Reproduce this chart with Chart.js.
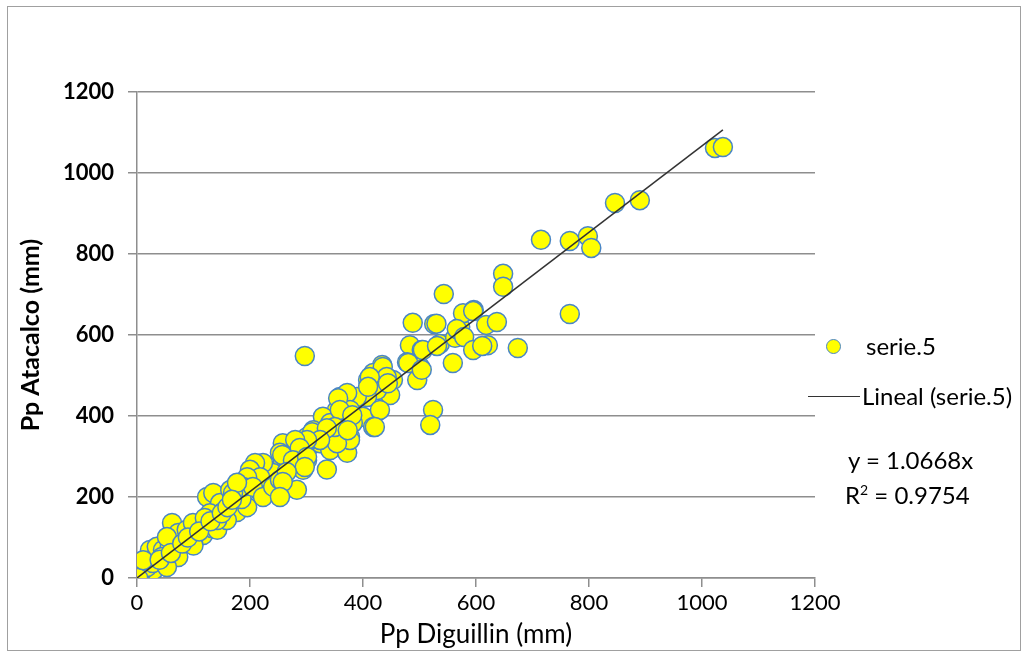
<!DOCTYPE html>
<html>
<head>
<meta charset="utf-8">
<script src="https://cdn.jsdelivr.net/npm/chart.js@4"></script>
<style>
  body { margin: 0; background: #fff; }
  #wrap { position: relative; width: 1027px; height: 658px; }
  #frame { position: absolute; left: 7px; top: 6px; width: 1014px; height: 645px; border: 1px solid #a0a0a0; box-sizing: border-box; }
  .lg { position: absolute; font-family: Lato, 'Liberation Sans', sans-serif; font-size: 24px; color: #000; white-space: nowrap; line-height: 28px; }
  .dot { position: absolute; width: 15px; height: 15px; border-radius: 50%; background: #ffff00; border: 1.5px solid #4a86c5; box-sizing: border-box; }
  .ln { position: absolute; height: 0; border-top: 1.5px solid #333; }
</style>
</head>
<body>
<div id="wrap">
  <div id="frame"></div>
  <canvas id="chart" width="1027" height="658"></canvas>
  <div class="dot" style="left:826px; top:339px;"></div>
  <div class="lg" style="left:866px; top:332px;">serie.5</div>
  <div class="ln" style="left:808px; top:396px; width:52px;"></div>
  <div class="lg" style="left:862px; top:382px;">Lineal (serie.5)</div>
  <div class="lg" style="left:848px; top:446px;">y = 1.0668x</div>
  <div class="lg" style="left:845px; top:476px;">R<sup style="font-size:14px; vertical-align: 9px;">2</sup> = 0.9754</div>
</div>
<script>
// Pp Diguillin (mm) vs Pp Atacalco (mm)
var diguillin = [
  2, 5, 8, 10, 3, 15, 12, 20, 25, 30, 0, 6,
  2, 5, 18, 28, 2, 23, 35, 46, 58, 73, 62, 73, 53, 88, 99, 106, 117, 133, 142, 99, 85, 124, 135, 147, 152, 129, 120, 170, 165, 182, 195, 200, 177, 195, 159, 142, 100, 44, 11, 53,
  40, 60, 80, 90, 110, 130, 150, 160, 185, 210, 230, 245, 270, 290, 310,
  359, 373, 354, 382, 329, 342, 365, 377, 359, 336, 312, 301, 324, 342, 372, 336, 306, 280, 258, 253, 274, 301, 294, 265, 283, 258, 241, 223, 209, 200, 218, 195, 188, 205, 223, 241, 253, 170, 177, 168,
  483, 504, 536, 563, 559, 478, 501, 496, 434, 418, 409, 439, 453, 448, 425, 407, 389, 372, 377, 400, 430, 418, 382, 365, 347, 363, 377, 354,
  297, 488, 526, 596, 572, 506, 531, 480, 504, 435, 442, 412, 409, 444, 356, 359, 381, 421, 350, 373, 310, 336, 324, 301, 280, 288, 257, 276, 301, 297, 265, 258, 253,
  543, 577, 595, 648, 648, 618, 637, 566, 579, 595, 621, 611, 674, 766, 530,
  1023, 1037, 846, 890, 766, 798, 804, 715,
  524, 519
];
var atacalco = [
  2, 8, 3, 15, 25, 5, 22, 12, 30, 20, 5, 12,
  20, 12, 27, 37, 0, 69, 77, 69, 77, 52, 136, 111, 101, 119, 136, 101, 106, 123, 119, 94, 86, 200, 210, 185, 163, 160, 148, 193, 217, 235, 217, 242, 163, 175, 143, 143, 80, 52, 44, 27,
  45, 62, 85, 100, 115, 140, 160, 175, 195, 225, 250, 265, 285, 310, 330,
  447, 440, 415, 415, 398, 383, 383, 348, 333, 358, 365, 348, 333, 316, 309, 268, 341, 333, 333, 309, 299, 291, 267, 267, 218, 291, 259, 284, 284, 267, 249, 249, 225, 225, 200, 225, 242, 210, 235, 193,
  575, 563, 578, 593, 531, 533, 521, 489, 526, 506, 489, 496, 489, 452, 464, 447, 447, 457, 415, 398, 415, 373, 383, 390, 365, 358, 341, 333,
  548, 630, 627, 662, 620, 563, 573, 531, 514, 521, 496, 496, 472, 481, 444, 415, 402, 373, 373, 365, 360, 370, 341, 341, 341, 321, 304, 291, 299, 274, 262, 237, 200,
  701, 654, 659, 751, 719, 625, 632, 615, 595, 563, 575, 573, 568, 652, 628,
  1062, 1064, 926, 933, 832, 844, 815, 835,
  415, 378
];
var yTicks = [0, 200, 400, 600, 800, 1000, 1200];
var slope = 1.0668;

var points = diguillin.map(function (x, i) { return { x: x, y: atacalco[i] }; });
var xMax = Math.max.apply(null, diguillin);
var trend = [{ x: 0, y: 0 }, { x: xMax, y: slope * xMax }];

function plain(v) { return String(v); }

new Chart(document.getElementById('chart'), {
  type: 'scatter',
  data: {
    datasets: [{
      label: 'Lineal (serie.5)',
      type: 'line',
      data: trend,
      borderColor: '#333333',
      borderWidth: 1.5,
      pointRadius: 0,
      fill: false,
      order: 0
    }, {
      label: 'serie.5',
      data: points,
      backgroundColor: '#ffff00',
      borderColor: '#4a86c5',
      borderWidth: 1.5,
      pointRadius: 9.5,
      order: 1
    }]
  },
  options: {
    responsive: false,
    animation: false,
    layout: { padding: { left: 14, right: 212, top: 92, bottom: 8 } },
    plugins: { legend: { display: false }, tooltip: { enabled: false } },
    scales: {
      x: {
        type: 'linear',
        min: 0,
        max: 1200,
        afterFit: function (scale) { scale.height = 72; },
        ticks: { stepSize: 200, color: '#000', font: { family: 'Lato', size: 22 }, padding: 3, maxRotation: 0, callback: plain },
        grid: { drawOnChartArea: false, drawTicks: true, tickLength: 9, color: '#8e8e8e', lineWidth: 1.5 },
        border: { color: '#8e8e8e', width: 1.5 },
        title: { display: true, text: 'Pp Diguillin (mm)', color: '#000', font: { family: 'Lato', size: 26 }, padding: { top: 0, bottom: 0 } }
      },
      y: {
        type: 'linear',
        min: 0,
        max: 1200,
        afterFit: function (scale) { scale.width = 123; },
        afterBuildTicks: function (scale) { scale.ticks = yTicks.map(function (v) { return { value: v }; }); },
        ticks: { color: '#000', font: { family: 'Lato', size: 22, weight: 'bold' }, padding: 14, callback: plain },
        grid: { color: '#8e8e8e', lineWidth: 1.5, tickLength: 9 },
        border: { color: '#8e8e8e', width: 1.5 },
        title: { display: true, text: 'Pp Atacalco (mm)', color: '#000', font: { family: 'Lato', size: 25, weight: 'bold' }, padding: 2 }
      }
    }
  }
});
</script>
</body>
</html>
